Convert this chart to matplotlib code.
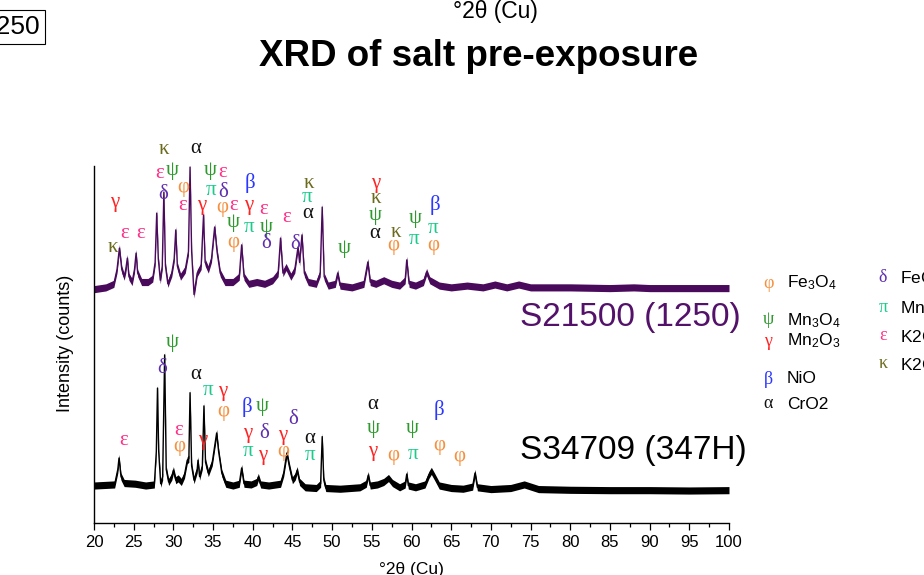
import matplotlib
matplotlib.use("Agg")
import matplotlib.pyplot as plt
import numpy as np
from matplotlib.ticker import MultipleLocator

# ---------------- data ----------------
# S34709 (347H) trace, 2theta (deg) and intensity (counts)
black_2theta = [20.0, 22.6, 23.0, 23.15, 23.4, 23.8, 25.2, 26.5, 27.6, 27.85, 28.0, 28.15, 28.4,
                28.65, 28.9, 29.1, 29.4, 29.8, 30.0, 30.3, 30.6, 31.0, 31.4, 31.75, 31.95, 32.1,
                32.3, 32.6, 33.0, 33.1, 33.3, 33.65, 33.85, 34.05, 34.4, 34.9, 35.2, 35.45, 35.7,
                36.1, 36.6, 37.5, 38.3, 38.6, 38.9, 39.8, 40.5, 40.7, 41.0, 42.0, 43.5, 43.9,
                44.3, 44.6, 45.0, 45.35, 45.6, 45.9, 46.6, 48.0, 48.55, 48.75, 48.95, 49.2, 51.0,
                53.5, 54.3, 54.55, 54.8, 55.7, 56.5, 57.1, 57.6, 58.5, 59.2, 59.4, 59.6, 60.5,
                61.7, 62.2, 62.5, 62.9, 63.5, 65.0, 66.5, 67.7, 68.0, 68.3, 70.0, 72.5, 74.2,
                76.0, 80.0, 85.0, 90.0, 95.0, 100.0]
black_counts = [105, 108, 150, 182, 130, 112, 110, 105, 108, 200, 378, 200, 110,
                130, 471, 150, 115, 130, 148, 120, 125, 115, 135, 176, 180, 365,
                160, 120, 150, 176, 130, 160, 328, 170, 140, 170, 215, 252, 200,
                140, 110, 105, 110, 154, 110, 108, 115, 129, 108, 105, 110, 140,
                196, 160, 120, 130, 148, 115, 100, 98, 110, 242, 120, 98, 96,
                100, 110, 134, 105, 108, 115, 126, 112, 100, 108, 137, 105, 100,
                108, 135, 146, 130, 105, 98, 96, 102, 140, 100, 95, 98, 108,
                95, 93, 92, 92, 91, 92]

# S21500 (1250) trace (raw counts, shown with a vertical offset)
purple_2theta = [20.0, 21.5, 22.5, 22.9, 23.2, 23.5, 23.8, 24.0, 24.2, 24.4, 24.8, 25.1, 25.3,
                 25.5, 26.0, 26.8, 27.4, 27.7, 27.9, 28.1, 28.35, 28.6, 28.8, 29.0, 29.3, 29.8,
                 30.1, 30.3, 30.5, 30.9, 31.5, 31.9, 32.1, 32.3, 32.6, 33.0, 33.5, 33.8, 34.0,
                 34.4, 34.8, 35.2, 35.5, 35.9, 36.5, 37.5, 38.3, 38.6, 38.9, 39.5, 40.5, 41.5,
                 42.5, 43.2, 43.5, 43.8, 44.2, 44.8, 45.3, 45.7, 45.9, 46.2, 46.5, 47.0, 48.0,
                 48.5, 48.75, 49.0, 49.5, 50.4, 50.7, 51.0, 52.5, 54.0, 54.5, 54.8, 55.5, 56.5,
                 57.5, 58.5, 59.2, 59.4, 59.7, 60.5, 61.5, 61.9, 62.3, 63.5, 65.0, 67.0, 69.0,
                 70.5, 72.0, 73.5, 75.0, 80.0, 85.0, 88.0, 90.0, 95.0, 100.0]
purple_counts = [95, 100, 110, 150, 210, 150, 130, 150, 182, 130, 115, 150, 196,
                 140, 115, 115, 125, 170, 308, 180, 120, 160, 367, 160, 110, 140,
                 180, 261, 160, 130, 150, 200, 437, 200, 80, 140, 160, 303, 170,
                 150, 180, 269, 200, 140, 115, 115, 130, 219, 130, 110, 115, 110,
                 120, 140, 238, 140, 157, 130, 150, 213, 170, 247, 140, 115, 110,
                 140, 325, 130, 105, 110, 140, 105, 100, 110, 171, 115, 110, 120,
                 110, 105, 120, 177, 110, 105, 115, 143, 120, 105, 100, 105, 100,
                 108, 100, 108, 100, 100, 98, 100, 98, 98, 98]
purple_offset = 560

# phase labels (symbol, 2theta, label height in plotted counts)
top_sym = ['κ', 'γ', 'ε', 'ε', 'κ', 'ε', 'ψ', 'δ', 'α', 'φ', 'ε', 'γ', 'ψ', 'ε', 'π', 'δ', 'β',
           'φ', 'ε', 'γ', 'ε', 'ψ', 'π', 'ψ', 'φ', 'δ', 'ε', 'δ', 'κ', 'π', 'α', 'ψ', 'γ', 'κ',
           'ψ', 'α', 'κ', 'φ', 'ψ', 'π', 'β', 'π', 'φ']
top_pos = [22.39, 22.65, 23.91, 25.92, 28.82, 28.31, 29.83, 28.69, 32.85, 31.21, 31.21, 33.61,
           34.61, 36.25, 34.74, 36.25, 39.65, 36.13, 37.64, 39.53, 41.42, 37.51, 39.53, 41.67,
           37.51, 41.67, 44.31, 45.32, 47.09, 46.83, 46.96, 51.50, 55.53, 55.53, 55.40, 55.40,
           58.05, 57.67, 60.44, 60.31, 62.96, 62.71, 62.71]
top_h = [773, 899, 812, 812, 1045, 980, 986, 919, 1050, 941, 888, 888, 986, 983, 930, 927, 952,
         885, 888, 888, 877, 843, 829, 829, 787, 784, 857, 779, 952, 913, 868, 770, 952, 908,
         860, 810, 815, 776, 852, 793, 891, 826, 776]

bot_sym = ['ε', 'ψ', 'δ', 'α', 'π', 'γ', 'φ', 'ε', 'φ', 'γ', 'β', 'ψ', 'γ', 'δ', 'π', 'γ', 'γ',
           'φ', 'δ', 'α', 'π', 'α', 'ψ', 'γ', 'φ', 'ψ', 'π', 'β', 'φ', 'φ']
bot_pos = [23.78, 29.83, 28.57, 32.85, 34.36, 36.25, 36.25, 30.71, 30.71, 33.73, 39.28, 41.17,
           39.40, 41.42, 39.40, 41.29, 43.81, 43.81, 45.07, 47.21, 47.21, 55.15, 55.15, 55.15,
           57.67, 60.06, 60.19, 63.46, 63.46, 65.98]
bot_h = [232, 507, 434, 417, 370, 367, 311, 260, 213, 232, 325, 325, 252, 252, 199, 190, 246,
         199, 289, 238, 190, 331, 266, 199, 190, 266, 193, 317, 218, 185]

# legend
legend1_sym = ['φ', 'ψ', 'γ', 'β', 'α']
legend1_lab = ['Fe$_3$O$_4$', 'Mn$_3$O$_4$', 'Mn$_2$O$_3$', 'NiO', 'CrO2']
legend2_sym = ['δ', 'π', 'ε', 'κ']
legend2_lab = ['FeCr$_2$O$_4$', 'MnCr$_2$O$_4$', 'K2CrO$_4$', 'K2Cr$_2$O$_7$']

sample_top = 'S21500 (1250)'
sample_bot = 'S34709 (347H)'
x_ticks = [20, 25, 30, 35, 40, 45, 50, 55, 60, 65, 70, 75, 80, 85, 90, 95, 100]

# ---------------- style ----------------
colors = {'φ': '#f5903e', 'ψ': '#2e9a2e', 'γ': '#ff2424', 'β': '#2b36ff', 'α': '#111111',
          'δ': '#5f2eae', 'π': '#1ccb8c', 'ε': '#ff2d86', 'κ': '#6b6b1e'}
purple = '#4a0a5c'
NOISE = 10

plt.rcParams['mathtext.fontset'] = 'custom'
plt.rcParams['mathtext.rm'] = 'Liberation Sans'
plt.rcParams['mathtext.it'] = 'Liberation Sans:italic'
plt.rcParams['mathtext.default'] = 'regular'
plt.rcParams['font.family'] = ['Liberation Sans', 'DejaVu Sans']
narrow = ['Liberation Sans Narrow', 'Liberation Sans', 'DejaVu Sans']
greek = ['Liberation Serif', 'DejaVu Serif']

W, H = 924, 575
fig = plt.figure(figsize=(W / 100, H / 100), dpi=100)
ax = fig.add_axes([94 / W, 1 - 523 / H, (729 - 94) / W, (523 - 166) / H])

def px(x, y):
    return x / W, 1 - y / H

bx = np.array(black_2theta)
by = np.array(black_counts, dtype=float)
pxs = np.array(purple_2theta)
pys = np.array(purple_counts, dtype=float) + purple_offset

for xs, ys, c in [(bx, by, 'black'), (pxs, pys, purple)]:
    ax.fill_between(xs, ys - NOISE, ys + NOISE, color=c, lw=0)
    ax.plot(xs, ys, color=c, lw=1.0)

for syms, pos, hs in [(top_sym, top_pos, top_h), (bot_sym, bot_pos, bot_h)]:
    for s, p, h in zip(syms, pos, hs):
        ax.text(p, h, s, color=colors[s], fontsize=15, family=greek,
                ha='center', va='center', clip_on=False)

ax.text(73.67, 552, sample_top, color='#53116a', fontsize=24, ha='left', va='baseline')
ax.text(73.67, 179, sample_bot, color='black', fontsize=24, ha='left', va='baseline')

ax.set_xlim(20, 100)
ax.set_ylim(0, 1000)
ax.set_xticks(x_ticks)
ax.set_xticklabels([str(t) for t in x_ticks], family=narrow, fontsize=12)
ax.xaxis.set_minor_locator(MultipleLocator(2.5))
ax.tick_params(axis='x', which='major', direction='out', length=5, width=0.9, pad=3.5)
ax.tick_params(axis='x', which='minor', direction='out', length=2.7, width=0.9)
ax.set_yticks([])
for s in ['top', 'right']:
    ax.spines[s].set_visible(False)
for s in ['left', 'bottom']:
    ax.spines[s].set_linewidth(1.0)
    ax.spines[s].set_color('black')

ax.set_xlabel('°2θ (Cu)', family=narrow, fontsize=12.5, va='top')
ax.xaxis.set_label_coords(0.5, -0.109)
fig.text(*px(65, 343), 'Intensity (counts)', rotation=90, fontsize=13,
         ha='center', va='center')

# title and cropped elements
fig.text(*px(479, 66), 'XRD of salt pre-exposure', fontsize=26.5, fontweight='bold',
         ha='center', va='baseline')
fig.text(*px(495, 18), '°2θ (Cu)', family=narrow, fontsize=16.5, ha='center', va='baseline')
fig.text(*px(40, 34), '1250', fontsize=19, ha='right', va='baseline',
         bbox=dict(boxstyle='square,pad=0.2', fc='white', ec='black', lw=0.8))

# legend
l1_sym_y = [283, 320, 341, 379, 404]
l1_base_y = [287, 325, 345, 383, 409]
for s, lab, ys, yb in zip(legend1_sym, legend1_lab, l1_sym_y, l1_base_y):
    fig.text(*px(768, ys), s, color=colors[s], fontsize=13, family=greek,
             ha='center', va='center')
    fig.text(*px(787, yb), lab, fontsize=12.5, ha='left', va='baseline')
l2_sym_y = [278, 307, 336, 364]
l2_base_y = [283, 313, 342, 370]
for s, lab, ys, yb in zip(legend2_sym, legend2_lab, l2_sym_y, l2_base_y):
    fig.text(*px(883, ys), s, color=colors[s], fontsize=13, family=greek,
             ha='center', va='center')
    fig.text(*px(900, yb), lab, fontsize=12.5, ha='left', va='baseline')

fig.savefig('out.png', dpi=100)
